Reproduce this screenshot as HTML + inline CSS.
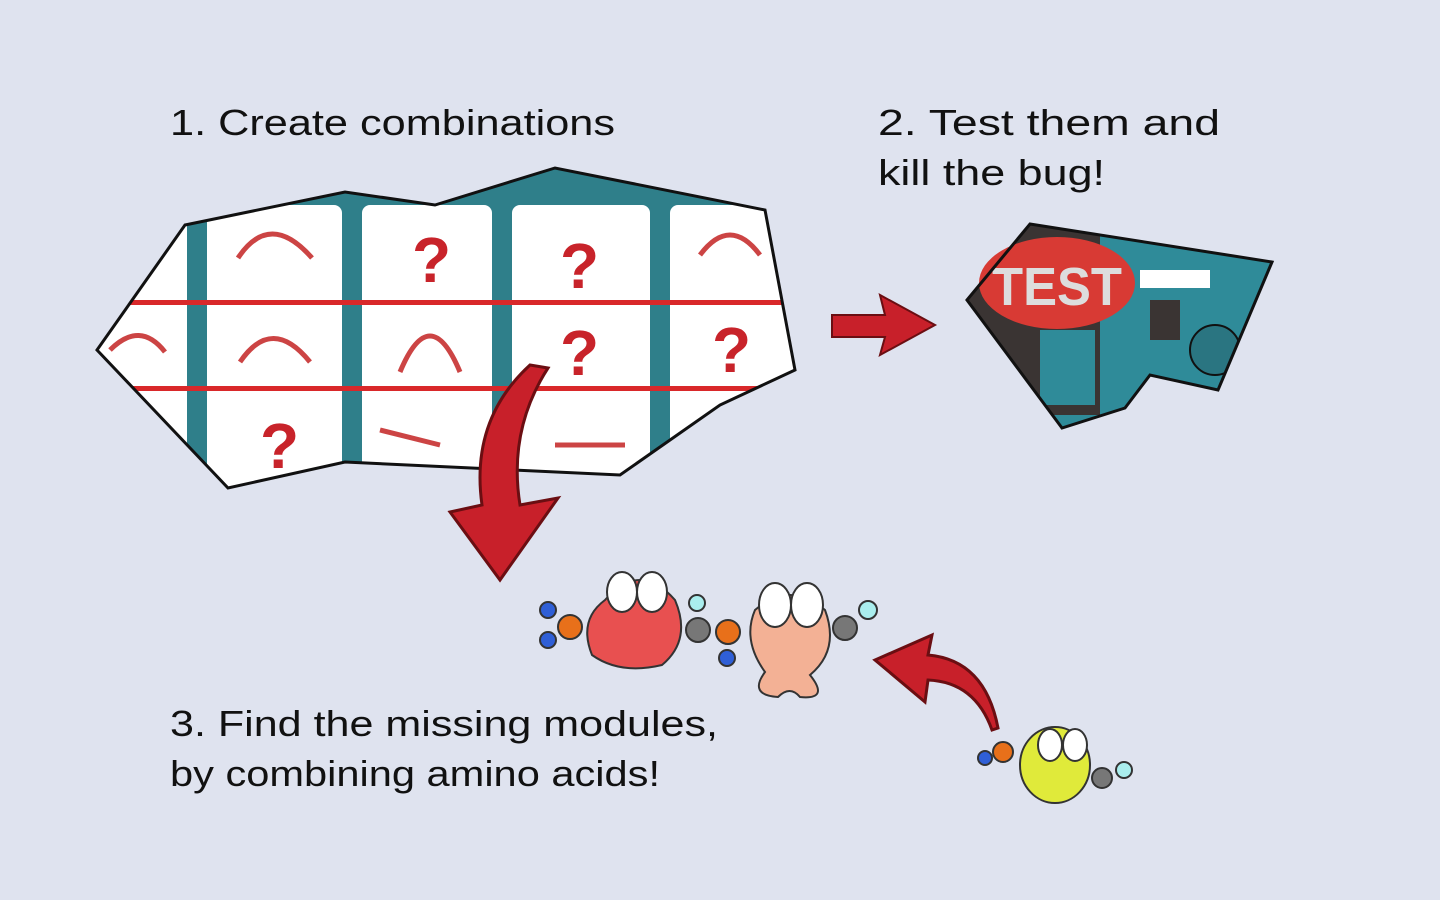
<!DOCTYPE html>
<html><head><meta charset="utf-8"><style>
html,body{margin:0;padding:0;background:#dfe3ef;}
svg{display:block}
text{font-family:"Comic Sans MS","Liberation Sans",sans-serif;fill:#111;}
</style></head><body>
<svg width="1440" height="900" viewBox="0 0 1440 900" xmlns="http://www.w3.org/2000/svg">
<rect width="1440" height="900" fill="#dfe3ef"/>
<text x="170" y="135" font-size="36" textLength="445" lengthAdjust="spacingAndGlyphs">1. Create combinations</text>
<text x="878" y="135" font-size="36" textLength="342" lengthAdjust="spacingAndGlyphs">2. Test them and</text>
<text x="878" y="185" font-size="36" textLength="227" lengthAdjust="spacingAndGlyphs">kill the bug!</text>
<text x="170" y="736" font-size="36" textLength="548" lengthAdjust="spacingAndGlyphs">3. Find the missing modules,</text>
<text x="170" y="786" font-size="36" textLength="490" lengthAdjust="spacingAndGlyphs">by combining amino acids!</text>

<defs><clipPath id="lp"><polygon points="97,350 185,225 345,192 435,205 555,168 765,210 795,370 720,405 620,475 345,462 228,488"/></clipPath>
<clipPath id="tp"><polygon points="967,300 1030,224 1272,262 1218,390 1150,375 1125,408 1062,428"/></clipPath></defs>
<g clip-path="url(#lp)">
<rect x="90" y="160" width="710" height="340" fill="#2f7f8a"/>
<rect x="97" y="160" width="90" height="340" fill="#fff"/>
<rect x="207" y="205" width="135" height="290" rx="8" fill="#fff"/>
<rect x="362" y="205" width="130" height="290" rx="8" fill="#fff"/>
<rect x="512" y="205" width="138" height="290" rx="8" fill="#fff"/>
<rect x="670" y="205" width="130" height="290" rx="8" fill="#fff"/>
<rect x="90" y="300" width="710" height="5" fill="#d9282a"/>
<rect x="90" y="386" width="710" height="5" fill="#d9282a"/>
<g font-size="64" font-weight="bold">
<text x="412" y="282" style="fill:#c8232a">?</text>
<text x="560" y="288" style="fill:#c8232a">?</text>
<text x="560" y="375" style="fill:#c8232a">?</text>
<text x="712" y="372" style="fill:#c8232a">?</text>
<text x="260" y="468" style="fill:#c8232a">?</text>
</g>
<g fill="none" stroke="#c44" stroke-width="5">
<path d="M238,258 Q270,210 312,258"/><path d="M240,362 Q272,315 310,362"/>
<path d="M400,372 Q430,300 460,372"/><path d="M700,255 Q730,215 760,255"/>
<path d="M110,350 Q140,320 165,352"/><path d="M380,430 L440,445"/><path d="M555,445 L625,445"/>
</g>
</g>
<polygon points="97,350 185,225 345,192 435,205 555,168 765,210 795,370 720,405 620,475 345,462 228,488" fill="none" stroke="#111" stroke-width="3"/>

<g clip-path="url(#tp)">
<rect x="960" y="215" width="320" height="220" fill="#2f8b99"/>
<rect x="960" y="215" width="140" height="200" fill="#3a3433"/>
<rect x="1040" y="330" width="55" height="75" fill="#2f8b99"/>
<rect x="1150" y="300" width="30" height="40" fill="#3a3433"/>
<circle cx="1215" cy="350" r="25" fill="#2a7581" stroke="#111" stroke-width="2"/>
<rect x="1140" y="270" width="70" height="18" fill="#fff"/>
</g>
<ellipse cx="1057" cy="283" rx="78" ry="46" fill="#d83a34"/>
<text x="992" y="305" font-size="54" font-weight="bold" style="fill:#ddd" textLength="130" lengthAdjust="spacingAndGlyphs">TEST</text>
<polygon points="967,300 1030,224 1272,262 1218,390 1150,375 1125,408 1062,428" fill="none" stroke="#111" stroke-width="3"/>

<path d="M832,315 L885,315 L880,295 L935,325 L880,355 L885,337 L832,337 Z" fill="#c8202a" stroke="#6b0e12" stroke-width="2"/>
<path d="M530,365 Q470,420 482,505 L450,512 L500,580 L558,498 L520,505 Q508,430 548,368 Z" fill="#c8202a" stroke="#6b0e12" stroke-width="3"/>
<path d="M998,728 Q985,660 928,655 L932,635 L875,660 L925,702 L928,680 Q975,682 992,730 Z" fill="#c8202a" stroke="#6b0e12" stroke-width="3"/>

<g stroke="#333" stroke-width="2">
<circle cx="548" cy="610" r="8" fill="#2f5fd6"/><circle cx="548" cy="640" r="8" fill="#2f5fd6"/>
<circle cx="570" cy="627" r="12" fill="#e8701a"/>
<path d="M605,600 Q640,560 675,600 Q692,640 662,665 Q620,675 592,655 Q578,620 605,600Z" fill="#e85050"/>
<ellipse cx="622" cy="592" rx="15" ry="20" fill="#fff"/><ellipse cx="652" cy="592" rx="15" ry="20" fill="#fff"/>
<circle cx="698" cy="630" r="12" fill="#777"/><circle cx="697" cy="603" r="8" fill="#aee"/>
<circle cx="728" cy="632" r="12" fill="#e8701a"/><circle cx="727" cy="658" r="8" fill="#2f5fd6"/>
<path d="M755,610 Q790,580 825,610 Q840,650 810,675 Q830,700 800,697 Q790,685 778,697 Q748,695 765,672 Q742,640 755,610Z" fill="#f3b195"/>
<ellipse cx="775" cy="605" rx="16" ry="22" fill="#fff"/><ellipse cx="807" cy="605" rx="16" ry="22" fill="#fff"/>
<circle cx="845" cy="628" r="12" fill="#777"/><circle cx="868" cy="610" r="9" fill="#aee"/>
<circle cx="985" cy="758" r="7" fill="#2f5fd6"/><circle cx="1003" cy="752" r="10" fill="#e8701a"/>
<ellipse cx="1055" cy="765" rx="35" ry="38" fill="#e0ea3a"/>
<ellipse cx="1050" cy="745" rx="12" ry="16" fill="#fff"/><ellipse cx="1075" cy="745" rx="12" ry="16" fill="#fff"/>
<circle cx="1102" cy="778" r="10" fill="#777"/><circle cx="1124" cy="770" r="8" fill="#aee"/>
</g>
</svg>
</body></html>
